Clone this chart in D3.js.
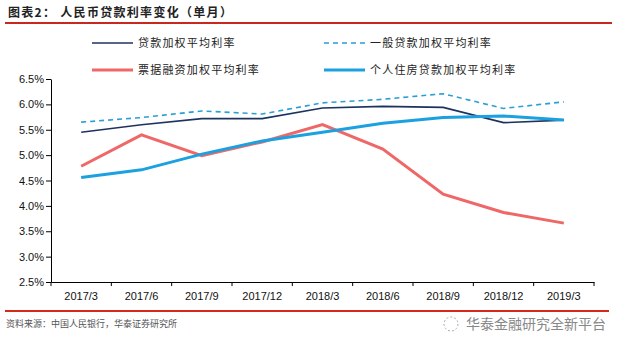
<!DOCTYPE html>
<html>
<head>
<meta charset="utf-8">
<script src="https://d3js.org/d3.v7.min.js"></script>
<style>
  body { margin: 0; background: #ffffff; }
  svg text { font-family: "Liberation Sans", Arial, sans-serif; }
  .cn { font-family: "Noto Sans CJK SC", "Noto Sans", sans-serif; }
</style>
</head>
<body>
<div id="chart"></div>
<script>
// data
var months = ["2017/3", "2017/6", "2017/9", "2017/12", "2018/3", "2018/6", "2018/9", "2018/12", "2019/3"];
var loanRate = [5.45, 5.60, 5.72, 5.72, 5.93, 5.96, 5.94, 5.64, 5.69];      // 贷款加权平均利率
var generalRate = [5.65, 5.74, 5.87, 5.81, 6.03, 6.10, 6.21, 5.92, 6.05];   // 一般贷款加权平均利率
var billRate = [4.78, 5.40, 4.99, 5.26, 5.60, 5.12, 4.23, 3.87, 3.66];      // 票据融资加权平均利率
var mortgageRate = [4.56, 4.71, 5.02, 5.28, 5.45, 5.63, 5.74, 5.77, 5.69];  // 个人住房贷款加权平均利率
var yTicks = [2.5, 3.0, 3.5, 4.0, 4.5, 5.0, 5.5, 6.0, 6.5];

var W = 617, H = 352;
var svg = d3.select("#chart").append("svg")
  .attr("width", W)
  .attr("height", H);

svg.append("rect").attr("width", W).attr("height", H).attr("fill", "#ffffff");

// title + red rules
svg.append("text")
  .attr("class", "cn")
  .attr("x", 8).attr("y", 17)
  .style("font-size", "12px")
  .style("font-weight", "bold")
  .style("letter-spacing", "1.3px")
  .attr("fill", "#222")
  .text("图表2：  人民币贷款利率变化（单月）");
svg.append("line")
  .attr("x1", 5).attr("x2", 612).attr("y1", 23).attr("y2", 23)
  .attr("stroke", "#c8281e").attr("stroke-width", 2);
svg.append("line")
  .attr("x1", 5).attr("x2", 609).attr("y1", 311).attr("y2", 311)
  .attr("stroke", "#d52a1a").attr("stroke-width", 2);

// scales
var x = d3.scaleBand().domain(months).range([51, 594]).padding(0);
var y = d3.scaleLinear().domain([2.5, 6.5]).range([282, 79]);

var yAxis = svg.append("g")
  .attr("transform", "translate(51,0)")
  .call(d3.axisLeft(y).tickValues(yTicks).tickSize(5).tickSizeOuter(0)
    .tickFormat(function (d) { return d.toFixed(1) + "%"; }));
yAxis.selectAll("text").style("font-size", "11px").attr("fill", "#111").attr("x", -7);
yAxis.selectAll("line, path").attr("stroke", "#000");

var xAxis = svg.append("g")
  .attr("transform", "translate(0,282)")
  .call(d3.axisBottom(x).tickSize(0).tickSizeOuter(0));
xAxis.selectAll("text").style("font-size", "11px").attr("fill", "#111").attr("dy", "1.35em");
xAxis.selectAll("path").attr("stroke", "#000");
// boundary ticks between categories
xAxis.selectAll(".sep")
  .data(months.concat(["end"]))
  .enter().append("line")
  .attr("class", "sep")
  .attr("x1", function (d, i) { return 51 + i * x.bandwidth(); })
  .attr("x2", function (d, i) { return 51 + i * x.bandwidth(); })
  .attr("y1", 0).attr("y2", 4)
  .attr("stroke", "#000");

var line = d3.line()
  .x(function (d, i) { return x(months[i]) + x.bandwidth() / 2; })
  .y(function (d) { return y(d); });

var series = [
  { name: "贷款加权平均利率", values: loanRate, color: "#1c3360", width: 1.6, dash: null },
  { name: "一般贷款加权平均利率", values: generalRate, color: "#2a9fd6", width: 1.6, dash: "5,4" },
  { name: "票据融资加权平均利率", values: billRate, color: "#ef6767", width: 3, dash: null },
  { name: "个人住房贷款加权平均利率", values: mortgageRate, color: "#1ba1e0", width: 3, dash: null }
];

series.forEach(function (s) {
  svg.append("path")
    .datum(s.values)
    .attr("fill", "none")
    .attr("stroke", s.color)
    .attr("stroke-width", s.width)
    .attr("stroke-dasharray", s.dash)
    .attr("d", line);
});

// legend
var legPos = [[92, 43], [324, 43], [92, 70], [324, 70]];
series.forEach(function (s, i) {
  var g = svg.append("g").attr("transform", "translate(" + legPos[i][0] + "," + legPos[i][1] + ")");
  g.append("line")
    .attr("x1", 0).attr("x2", 41).attr("y1", 0).attr("y2", 0)
    .attr("stroke", s.color).attr("stroke-width", s.width)
    .attr("stroke-dasharray", s.dash);
  g.append("text")
    .attr("class", "cn")
    .attr("x", 46).attr("y", 4)
    .style("font-size", "11px")
    .style("letter-spacing", "1.2px")
    .attr("fill", "#222")
    .text(s.name);
});

// footer
svg.append("text")
  .attr("class", "cn")
  .attr("x", 6).attr("y", 327)
  .style("font-size", "9px")
  .attr("fill", "#555")
  .text("资料来源：中国人民银行，华泰证券研究所");

svg.append("circle")
  .attr("cx", 451).attr("cy", 324).attr("r", 7)
  .attr("fill", "none").attr("stroke", "#aaa")
  .attr("stroke-dasharray", "2,2");
svg.append("text")
  .attr("class", "cn")
  .attr("x", 606).attr("y", 329)
  .attr("text-anchor", "end")
  .style("font-size", "14px")
  .attr("fill", "#888")
  .text("华泰金融研究全新平台");
</script>
</body>
</html>
